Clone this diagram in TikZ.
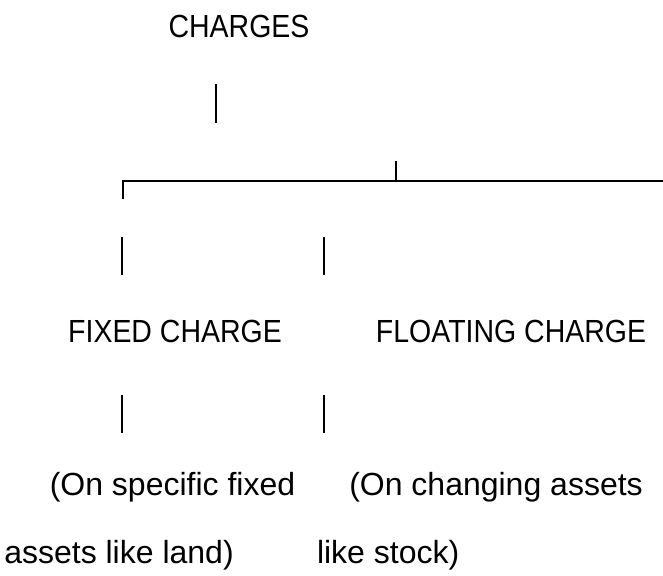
\documentclass[tikz,border=0pt]{standalone}
\usepackage{fontspec}
\setmainfont{Liberation Sans}
% narrower cut for the capital-letter headings
\newfontfamily\headfont[FakeStretch=0.89]{Liberation Sans}
\begin{document}
\begin{tikzpicture}[x=0.75pt,y=-0.75pt,
    label/.style={inner sep=0pt,outer sep=0pt,anchor=base,font=\fontsize{24}{28}\selectfont},
    head/.style={label,font=\fontsize{24}{28}\headfont},
    rule/.style={line width=2.1pt,line cap=butt}]
  \useasboundingbox (0,0) rectangle (663,575);

  % headings
  \node[head] (charges)  at (239,37)   {CHARGES};
  \node[head] (fixed)    at (175,342)  {FIXED CHARGE};
  \node[head] (floating) at (511,342)  {FLOATING CHARGE};

  % descriptions
  \node[label] (fixeda)  at (172.5,495) {(On specific fixed};
  \node[label] (fixedb)  at (119,563)   {assets like land)};
  \node[label] (floata)  at (496,495)   {(On changing assets};
  \node[label,anchor=base west] (floatb) at (317,563) {like stock)};

  % tree bars
  \coordinate (top1) at (216,84);
  \coordinate (top2) at (216,123);
  \coordinate (corner) at (123,181);
  \coordinate (cornerdown) at (123,199);
  \coordinate (tick) at (396,161);
  \coordinate (tickfoot) at (396,181);
  \coordinate (barend) at (663,181);

  \draw[rule] (top1) -- (top2);
  \draw[rule] (cornerdown) -- (corner) -- (barend);
  \draw[rule] (tick) -- (tickfoot);

  % short stems around the second level
  \draw[rule] (122,237) -- (122,275);
  \draw[rule] (324,237) -- (324,275);
  \draw[rule] (122,395) -- (122,433);
  \draw[rule] (324,395) -- (324,433);
\end{tikzpicture}
\end{document}
